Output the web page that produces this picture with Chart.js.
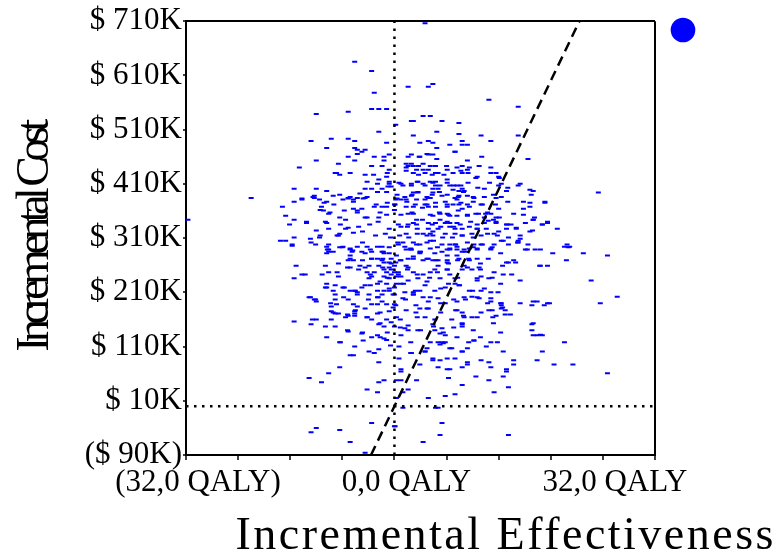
<!DOCTYPE html>
<html>
<head>
<meta charset="utf-8">
<title>Incremental cost-effectiveness plane</title>
<script src="https://cdn.jsdelivr.net/npm/chart.js@4.4.1/dist/chart.umd.min.js"></script>
<style>
  html, body { margin: 0; padding: 0; background: #fff; }
</style>
</head>
<body>
<canvas id="plane" width="779" height="554"></canvas>
<script>
// Axis ticks and labels
const xTicks = [-32, -24, -16, -8, 0, 8, 16, 24, 32, 40];
const xTickText = ['(32,0 QALY)', '', '', '', '0,0 QALY', '', '', '', '32,0 QALY', ''];
const yTicks = [-90, 10, 110, 210, 310, 410, 510, 610, 710];
const yTickText = ['($ 90K)', '$ 10K', '$ 110K', '$ 210K', '$ 310K', '$ 410K', '$ 510K', '$ 610K', '$ 710K'];

// Willingness-to-pay threshold line, [QALY, cost in $K]
const wtpLine = [[-3.6, -90], [28.4, 710]];

// Simulated draws, [incremental QALY, incremental cost in $K]
const upperLeftDraws = [
  [4.7,706],[-6.1,635],[-3.5,618],[-3.1,578],[-12.0,539],[-7.1,543],[-3.5,548],[-2.4,548],[-1.2,548],[-2.4,506],
  [-12.8,489],[-9.7,493],[-7.1,493],[-6.1,489],[-10.4,476],[-6.1,476],[-5.7,473],[-4.5,473],[-5.0,469],[-1.2,486],
  [-7.1,460],[-6.1,453],[-3.1,460],[-1.6,460],[-0.8,464],[-1.6,453],[-12.0,453],[-14.6,440],[-8.6,447],[-3.5,443],
  [-0.8,436],[-9.1,430],[-8.4,427],[-6.8,430],[-4.5,427],[-2.4,418],[-1.2,423],[-4.2,414],[-0.8,414],[-15.4,401],
  [-12.0,401],[-10.4,397],[-9.4,388],[-4.5,401],[-3.5,401],[-1.9,401],[-1.0,405],[-0.5,405],[-22.0,384],[-12.3,388],
  [-12.3,384],[-14.2,381],[-15.4,377],[-11.5,381],[-10.4,377],[-7.9,381],[-7.1,384],[-6.3,381],[-5.7,384],[-4.5,384],
  [-17.2,368],[-11.2,368],[-3.1,368],[-1.9,368],[-1.2,368],[0,372],[-16.7,351],[-10.9,361],[-10.1,355],[-6.3,364],
  [-5.7,361],[-5.0,364],[-31.7,344],[-15.4,344],[-16.1,335],[-13.5,338],[-10.4,338],[-8.4,348],[-7.5,344],[-4.2,348],
  [-2.4,348],[-12.0,324],[-10.1,327],[-8.6,315],[-7.5,327],[-8.4,318],[-17.5,305],[-16.7,305],[-15.7,298],[-15.4,311],
  [-12.8,302],[-11.5,311],[-10.1,298],[-10.1,289],[-8.4,293],[-6.8,289]
];

const upperRightDraws = [
  [2.1,589],[5.2,589],[5.9,594],[14.5,565],[19.0,552],[4.4,535],[5.5,535],[2.6,526],[2.9,526],[7.3,526],
  [9.9,522],[0.2,519],[6.5,506],[2.9,499],[9.9,502],[13.3,499],[19.0,499],[5.2,489],[5.9,486],[3.9,486],
  [10.4,489],[14.8,489],[8.5,482],[10.4,482],[11.2,482],[6.5,476],[9.3,469],[2.6,464],[2.1,460],[3.9,460],
  [5.2,464],[5.9,464],[6.5,456],[11.2,453],[20.5,456],[2.6,447],[2.1,443],[2.9,443],[1.8,440],[4.4,447],
  [5.5,443],[6.3,443],[8.1,436],[9.6,440],[11.2,436],[11.5,440],[13.0,443],[14.8,440],[3.4,436],[4.4,436],
  [5.2,436],[6.3,430],[10.4,430],[14.8,430],[15.6,430],[8.1,418],[12.7,423],[16.0,423],[1.0,410],[2.6,410],
  [2.6,407],[3.6,414],[4.4,410],[5.5,414],[6.3,414],[7.0,407],[8.5,407],[9.6,407],[10.4,401],[5.9,401],
  [6.7,401],[13.8,401],[16.0,407],[16.4,410],[17.2,397],[19.3,410],[19.0,407],[21.3,397],[31.3,394],[2.9,394],
  [3.6,394],[2.6,388],[5.9,394],[7.3,388],[9.9,397],[10.7,397],[9.9,388],[11.2,388],[9.3,384],[12.2,384],
  [15.6,384],[5.2,384],[5.5,384],[4.7,381],[1.0,381],[1.8,381],[0.2,381],[3.4,381],[9.6,381],[19.8,377],
  [23.1,377],[0.1,372],[1.8,368],[2.9,368],[4.7,372],[5.2,368],[6.3,368],[8.1,372],[8.1,368],[9.9,372],
  [11.2,372],[11.5,368],[10.4,364],[13.3,372],[16.0,364],[19.8,364],[20.8,368],[2.1,355],[2.9,355],[5.9,351],
  [7.0,355],[8.1,355],[9.6,351],[8.5,351],[12.5,355],[14.0,355],[14.8,355],[15.6,348],[13.8,348],[11.2,351],
  [3.4,344],[2.9,338],[5.2,338],[6.3,338],[7.0,344],[7.8,338],[8.5,338],[9.6,338],[12.7,335],[13.8,338],
  [15.2,344],[15.6,338],[17.2,335],[17.9,335],[20.1,338],[21.3,344],[23.5,338],[22.7,335],[25.0,327],[18.7,327],
  [17.2,327],[16.0,322],[14.1,327],[12.7,327],[10.4,327],[11.5,331],[8.5,331],[9.3,327],[6.7,327],[5.2,327],
  [5.9,322],[2.1,335],[3.4,335],[1.0,331],[1.8,318],[4.4,318],[5.5,318],[5.9,315],[7.8,318],[9.3,318],
  [10.4,315],[11.9,318],[13.3,315],[15.3,318],[16.4,305],[17.5,311],[19.3,315],[19.0,305],[20.8,322],[0.5,302],
  [1.3,302],[2.9,302],[3.4,298],[3.9,298],[5.5,305],[7.3,298],[8.5,298],[9.3,298],[11.2,302],[12.2,298],
  [13.3,298],[15.3,298],[19.0,302],[20.5,298],[26.5,298],[26.7,293],[1.8,289],[2.6,289],[8.5,289],[9.6,289],
  [10.7,289],[12.7,289],[14.8,289],[20.1,289],[21.6,289]
];

const lowerLeftDraws = [
  [-15.7,296],[-10.4,294],[-7.9,294],[-6.8,291],[-5.7,294],[-4.2,294],[-2.6,294],[-1.9,294],[-10.1,285],[-9.4,285],
  [-6.5,285],[-5.0,285],[-4.5,282],[-3.5,285],[-1.9,285],[-1.6,282],[-0.8,282],[-10.4,282],[-6.8,278],[-3.5,272],
  [-2.6,272],[-0.5,272],[0.3,278],[-7.1,269],[-6.3,269],[-1.9,269],[-1.6,265],[-0.8,265],[-15.1,259],[-5.3,259],
  [-3.9,259],[-2.4,259],[-0.8,256],[0,259],[-6.8,256],[-4.5,256],[-1.6,252],[-0.5,252],[-3.1,247],[-1.2,247],
  [0,247],[-4.2,247],[-14.2,243],[-15.4,236],[-10.1,247],[-8.6,239],[-3.5,239],[-1.6,239],[-0.5,243],[0.3,239],
  [-3.9,236],[-0.8,236],[-10.4,226],[-2.6,226],[-1.2,226],[0.3,226],[-10.4,219],[-9.1,223],[-7.9,219],[-6.8,213],
  [-6.1,213],[-5.0,219],[-4.5,223],[-2.6,213],[-1.6,213],[-0.8,213],[0,219],[-5.7,210],[-3.9,206],[-1.9,206],
  [-2.6,201],[0,206],[-9.1,206],[-13.1,201],[-12.3,197],[-12.0,193],[-9.1,197],[-7.1,197],[-3.5,188],[-2.6,188],
  [-1.2,188],[-9.7,184],[-8.9,188],[-6.3,188],[-5.7,184],[-4.5,180],[-1.9,193],[0,188],[-9.7,175],[-9.1,171],
  [-8.6,171],[-6.1,175],[-6.1,171],[-2.6,171],[-0.8,175],[-7.5,164],[-7.1,167],[-6.1,167],[-4.2,164],[-3.5,160],
  [-1.2,160],[-0.5,155],[0.3,164],[-15.4,156],[-12.8,151],[-12.0,160],[-9.1,147],[-9.7,160],[-2.4,151],[-1.6,147],
  [0,147],[-7.1,138],[-5.0,134],[-3.5,127],[-2.6,131],[-1.6,125],[-1.2,122],[-10.4,127],[-8.4,118],[-6.1,110],
  [-6.8,94],[-6.3,94],[-3.9,101],[-3.1,98],[-2.4,105],[-2.4,81],[-8.4,72],[-10.1,61],[-13.1,52],[-11.2,44],
  [-2.4,44],[-1.6,48],[-4.2,31],[-2.6,26],[0.3,15],[0,-37],[-3.5,-31],[-12.0,-40],[-12.8,-48],[-8.4,-44],
  [-6.8,-66],[-4.5,-86]
];

const lowerRightDraws = [
  [26.1,294],[26.9,294],[29.0,282],[32.7,278],[26.4,269],[24.3,282],[22.3,259],[23.5,259],[18.6,265],[17.5,265],
  [17.2,265],[18.0,243],[19.3,232],[30.2,232],[34.2,202],[31.6,190],[23.8,190],[23.0,186],[21.9,193],[21.1,186],
  [19.3,190],[17.0,177],[17.0,169],[16.4,186],[16.4,180],[21.1,151],[21.1,140],[21.9,131],[22.7,131],[26.1,118],
  [22.7,101],[21.9,85],[24.5,77],[27.4,77],[32.7,61],[18.3,85],[18.3,77],[17.2,68],[17.2,64],[16.7,55],
  [17.5,35],[15.3,26],[14.5,48],[12.5,55],[10.4,39],[9.3,22],[7.8,19],[5.2,15],[8.3,52],[8.5,68],
  [8.1,68],[6.7,72],[5.9,85],[5.9,88],[7.0,85],[8.1,88],[9.3,88],[11.2,81],[11.2,77],[10.4,72],
  [13.3,85],[14.5,81],[14.8,72],[16.7,101],[14.8,118],[14.1,110],[12.2,121],[11.2,107],[10.4,101],[8.5,107],
  [7.0,114],[7.3,118],[4.7,101],[2.6,98],[3.9,77],[0.7,88],[1.0,68],[1.0,64],[0.3,48],[1.0,48],
  [3.4,48],[2.1,31],[1.3,26],[6.3,-3],[6.7,-3],[7.3,-31],[7.0,-53],[17.5,-53],[4.4,-66],[0.1,-37],
  [1.3,-3]
];

const centreRightDraws = [
  [1.6,294],[2.5,291],[3.9,285],[3.9,282],[5.5,291],[6.2,282],[7.3,285],[8.5,291],[9.6,294],[10.4,285],
  [11.5,291],[12.7,291],[14.8,291],[0.2,265],[1.0,269],[2.1,272],[2.9,272],[4.4,269],[5.2,272],[5.9,269],
  [6.7,269],[8.1,278],[8.1,269],[8.1,265],[9.6,278],[9.9,272],[11.5,269],[12.7,272],[10.7,259],[6.7,259],
  [1.8,259],[0.6,243],[1.0,239],[2.1,256],[2.9,247],[4.4,243],[5.5,247],[6.2,252],[7.0,236],[8.1,252],
  [8.5,243],[9.3,236],[10.4,252],[11.9,252],[13.0,256],[13.3,239],[14.5,236],[15.3,247],[12.7,236],[1.0,226],
  [2.1,232],[3.6,236],[4.7,223],[6.2,213],[7.8,219],[9.3,226],[9.9,223],[11.5,213],[12.7,232],[13.3,213],
  [14.8,210],[15.9,210],[1.6,210],[2.9,210],[3.9,213],[1.3,199],[2.9,206],[4.4,201],[5.2,193],[6.7,199],
  [7.8,190],[9.6,193],[10.7,201],[11.9,202],[13.0,199],[14.8,199],[14.8,193],[16.4,190],[3.3,186],[3.9,180],
  [5.2,180],[0.2,186],[1.8,177],[3.3,173],[4.7,164],[6.2,160],[8.8,160],[9.6,177],[10.4,173],[10.7,164],
  [11.9,164],[13.3,173],[14.5,177],[15.1,164],[15.6,167],[10.4,151],[10.4,147],[5.9,151],[7.3,144],[1.6,144],
  [1.0,131],[2.1,140],[3.6,140],[6.2,140],[7.0,134],[7.8,131],[9.6,127],[12.2,121],[5.5,118],[6.7,118],
  [7.8,118],[0.7,110],[2.5,98],[4.7,101],[8.8,107],[10.4,101]
];

const coreDraws = [
  [-5.7,465],[3.8,460],[5.0,465],[9.3,469],[13.4,460],[-1.9,443],[3.7,443],[8.0,443],[10.4,443],[1.8,447],
  [-8.9,430],[-3.2,427],[-1.1,430],[1.8,434],[2.9,430],[3.7,427],[4.7,430],[5.8,427],[6.7,430],[7.6,427],
  [9.0,430],[10.2,434],[11.3,430],[12.5,421],[16.1,421],
  [-2.6,410],[-0.8,410],[0.7,412],[1.3,407],[3.5,414],[4.7,407],[5.9,412],[6.3,407],[8.1,412],[9.1,407],
  [10.2,407],[11.3,412],[12.8,403],[14.6,412],[17.4,403],
  [-8.4,390],[-6.8,386],[-5.3,392],[-4.2,386],[-2.6,395],[-1.2,395],[0.4,390],[1.6,386],[2.7,390],[3.6,395],
  [5.0,386],[5.8,390],[6.9,395],[8.1,390],[9.0,399],[9.8,386],[10.6,395],[12.1,386],[13.8,386],[15.2,390],
  [16.4,386],[20.8,399],[21.0,390],[-14.2,383],[-12.5,386],
  [-10.8,375],[-9.3,372],[-7.1,383],[-6.3,377],[-4.8,383],[-2.8,372],[-1.1,375],[0.4,383],[1.9,377],[3.2,372],
  [5.0,372],[6.3,375],[7.8,377],[9.0,372],[10.2,375],[12.1,377],[13.5,372],[15.5,372],[17.4,377],[20.8,375],
  [23.1,375],
  [-11.4,362],[-9.9,357],[-7.7,361],[-5.7,357],[-4.5,348],[-2.2,357],[-1.2,353],[0,362],[1.0,353],[2.7,357],
  [4.3,366],[5.5,353],[6.9,357],[8.3,353],[9.8,361],[11.2,353],[12.9,355],[14.3,357],[16.1,348],[18.3,355],
  [19.8,353],[21.5,348],
  [-13.5,340],[-10.6,340],[-8.3,335],[-7.1,329],[-5.5,331],[-3.8,335],[-2.5,340],[-0.8,327],[0.6,335],[2.0,331],
  [3.5,327],[4.3,344],[5.8,335],[7.1,331],[8.1,340],[9.1,331],[10.1,335],[11.7,340],[12.7,327],[14.4,342],
  [15.6,340],[17.3,335],[18.7,329],[21.3,344],[22.7,335],[23.5,340],
  [-12.9,309],[-11.4,315],[-8.8,315],[-6.3,320],[-4.9,322],[-2.9,315],[-1.4,318],[-0.6,311],[0.8,315],[2.2,311],
  [3.5,318],[5.0,315],[6.0,305],[7.4,311],[8.9,311],[10.4,315],[12.1,311],[14.3,318],[15.8,315],[16.7,305],
  [19.3,309],[21.2,324],
  [-12.1,298],[-10.3,289],[-8.0,293],[-6.4,287],[-4.9,302],[-3.7,289],[-1.7,285],[-0.8,293],[0.6,298],[2.5,289],
  [4.0,285],[5.0,302],[6.6,293],[8.1,289],[9.4,298],[10.9,285],[12.1,293],[13.5,298],[15.0,293],[16.3,282],
  [17.5,298],[18.9,302],[20.4,289],[22.4,289],
  [-10.6,259],[-8.6,263],[-6.8,272],[-4.9,269],[-3.5,272],[-1.8,272],[-0.5,263],[0.9,269],[2.9,276],[5.0,272],
  [6.4,269],[8.3,263],[9.7,269],[11.4,272],[13.2,263],[14.4,272],[16.6,259],[18.3,269],[22.4,259],
  [-13.7,243],[-11.1,243],[-8.8,247],[-7.2,256],[-5.5,252],[-3.7,243],[-1.8,256],[-1.1,237],[0.6,247],[2.0,252],
  [3.5,243],[5.4,237],[6.6,247],[8.1,252],[9.7,237],[11.2,256],[13.2,252],[15.0,237],[16.7,243],
  [-12.9,201],[-10.6,219],[-9.4,213],[-7.7,219],[-6.0,213],[-3.7,223],[-2.2,230],[-0.8,217],[1.4,226],[3.2,213],
  [5.0,230],[7.1,217],[8.3,226],[10.0,223],[12.0,213],[13.8,217],[16.3,226],
  [-12.1,197],[-9.8,190],[-7.8,201],[-5.7,206],[-4.0,197],[-2.5,201],[-0.2,206],[1.7,197],[2.9,206],[5.5,201],
  [7.1,190],[9.1,197],[10.9,197],[12.7,201],[14.3,190],[16.3,190],[21.3,193],[23.5,190],
  [-12.6,160],[-9.4,173],[-7.2,169],[-6.0,177],[-4.2,164],[-2.2,173],[-0.2,182],[0.9,160],[3.5,164],[5.0,180],
  [7.1,173],[9.4,177],[10.6,167],[12.7,164],[15.0,177],[16.6,182],[17.8,169],[21.3,153],
  [-10.6,147],[-7.2,140],[-4.9,136],[-2.2,153],[-1.1,136],[0.9,145],[2.1,149],[4.0,140],[6.0,147],[7.5,136],
  [9.1,145],[10.4,153],[12.1,140],[15.2,153],[16.3,136],[21.3,131],[22.4,132],
  [-8.3,118],[-4.8,121],[-2.2,127],[-0.6,112],[2.5,118],[5.0,107],[7.5,116],[11.4,118],[13.2,127],[15.8,118]
];

const serif = "'Liberation Serif', 'Times New Roman', serif";
const toXY = ([x, y]) => ({ x, y });
const allDraws = [...upperLeftDraws, ...upperRightDraws, ...lowerLeftDraws, ...lowerRightDraws,
  ...centreRightDraws, ...coreDraws];
const xMin = xTicks[0], xMax = xTicks[xTicks.length - 1];
const yMin = yTicks[0], yMax = yTicks[yTicks.length - 1];

// canvas letterSpacing for the two axis titles (spaced x title, squeezed y title)
const spacedText = {
  id: 'spacedText',
  beforeDraw(chart) {
    const wrap = (obj, key, spacing) => {
      if (!obj || obj['_spaced_' + key]) return;
      const orig = obj[key];
      obj[key] = function (...args) {
        const ctx = chart.ctx;
        const prev = ctx.letterSpacing;
        ctx.letterSpacing = spacing;
        orig.apply(this, args);
        ctx.letterSpacing = prev;
      };
      obj['_spaced_' + key] = true;
    };
    wrap(chart.titleBlock, 'draw', '2.5px');
    wrap(chart.scales.y, 'drawTitle', '-5.5px');
  }
};

new Chart(document.getElementById('plane'), {
  type: 'scatter',
  data: {
    datasets: [
      {
        type: 'line',
        label: 'Threshold',
        data: wtpLine.map(toXY),
        borderColor: '#000',
        borderWidth: 2.5,
        borderDash: [10, 6],
        pointRadius: 0,
        fill: false
      },
      {
        type: 'line',
        label: 'Zero effect',
        data: [{ x: 0, y: yMin }, { x: 0, y: yMax }],
        borderColor: '#000',
        borderWidth: 2.5,
        borderDash: [2.5, 5.5],
        pointRadius: 0,
        fill: false
      },
      {
        type: 'line',
        label: 'Zero cost',
        data: [{ x: xMin, y: 0 }, { x: xMax, y: 0 }],
        borderColor: '#000',
        borderWidth: 2.5,
        borderDash: [2.5, 5.5],
        pointRadius: 0,
        fill: false
      },
      {
        label: 'Simulations',
        data: allDraws.map(toXY),
        pointStyle: 'line',
        pointRadius: 2.5,
        pointBorderWidth: 2,
        borderColor: '#0000ff',
        backgroundColor: '#0000ff'
      }
    ]
  },
  options: {
    responsive: false,
    animation: false,
    events: [],
    layout: { padding: { top: 2, right: 3, bottom: 0, left: 0 } },
    plugins: {
      legend: {
        position: 'right',
        align: 'start',
        labels: {
          usePointStyle: true,
          pointStyle: 'circle',
          boxWidth: 22,
          boxHeight: 16,
          padding: 17,
          font: { size: 22 },
          generateLabels: (chart) =>
            Chart.defaults.plugins.legend.labels.generateLabels(chart)
              .filter((item) => item.datasetIndex === 3)
              .map((item) => ({ ...item, text: '' }))
        }
      },
      title: {
        display: true,
        position: 'bottom',
        align: 'end',
        text: 'Incremental Effectiveness',
        color: '#000',
        font: { family: serif, size: 46, weight: 'normal', lineHeight: 0.76 },
        padding: { top: 13.8, bottom: 0 }
      },
      tooltip: { enabled: false }
    },
    scales: {
      x: {
        type: 'linear',
        min: xMin,
        max: xMax,
        afterBuildTicks: (s) => { s.ticks = xTicks.map((value) => ({ value })); },
        ticks: {
          autoSkip: false,
          maxRotation: 0,
          labelOffset: 12,
          padding: 4,
          color: '#000',
          font: { family: serif, size: 31 },
          callback: (v, i) => xTickText[i]
        },
        grid: {
          color: (c) => (c.tick && c.tick.value === xMax ? '#000' : 'rgba(0,0,0,0)'),
          lineWidth: 2,
          tickLength: 5,
          tickColor: '#000',
          tickWidth: 1.5
        },
        border: { color: '#000', width: 2 }
      },
      y: {
        type: 'linear',
        min: yMin,
        max: yMax,
        afterBuildTicks: (s) => { s.ticks = yTicks.map((value) => ({ value })); },
        afterFit: (s) => { s.width = 186; },
        ticks: {
          autoSkip: false,
          padding: 1,
          color: '#000',
          font: { family: serif, size: 31, lineHeight: 1.3 },
          callback: (v, i) => yTickText[i]
        },
        grid: {
          color: (c) => (c.tick && c.tick.value === yMax ? '#000' : 'rgba(0,0,0,0)'),
          lineWidth: 2,
          tickLength: 3,
          tickColor: '#000',
          tickWidth: 1.5
        },
        border: { color: '#000', width: 2 },
        title: {
          display: true,
          text: 'Incremental Cost',
          color: '#000',
          font: { family: serif, size: 46 },
          padding: { top: 8.4, bottom: 0 }
        }
      },
      // empty spacer column to the right of the legend dot
      y2: {
        type: 'linear',
        position: 'right',
        weight: 2000,
        min: yMin,
        max: yMax,
        ticks: { display: false },
        grid: { display: false },
        border: { display: false },
        afterFit: (s) => { s.width = 61; }
      }
    }
  },
  plugins: [spacedText]
});
</script>
</body>
</html>
